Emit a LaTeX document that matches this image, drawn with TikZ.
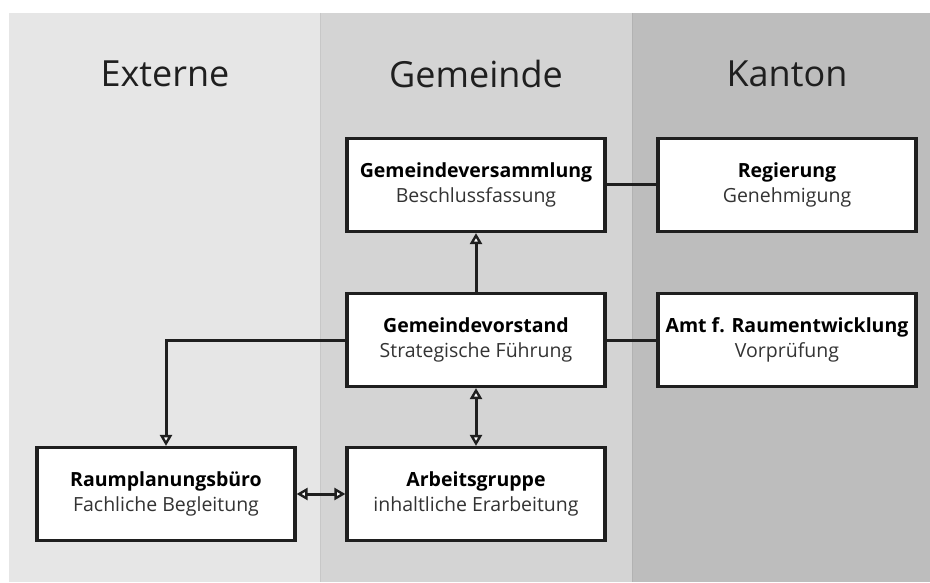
\documentclass[tikz,border=0pt]{standalone}
\usepackage{fontspec}
\setmainfont{Open Sans}
\usetikzlibrary{arrows.meta}

\definecolor{colext}{HTML}{E6E6E6}
\definecolor{colgem}{HTML}{D4D4D4}
\definecolor{colkan}{HTML}{BDBDBD}
\definecolor{txtsub}{HTML}{333333}

\newcommand{\boxtext}[2]{{\bfseries #1}\\\color{txtsub}#2}

\tikzset{
    orgbox/.style={draw=black!88, line width=3.2pt, fill=white,
        minimum width=258pt, minimum height=93pt, align=center,
        font=\fontsize{19.5}{25.5}\selectfont, inner sep=0pt},
    colhead/.style={font=\fontsize{36}{42}\selectfont, text=black!88},
    conn/.style={line width=3pt, draw=black!88},
    tip/.style={-{Triangle[length=11pt,width=12pt,fill=white,line width=2.4pt]}},
    dbltip/.style={{Triangle[length=11pt,width=12pt,fill=white,line width=2.4pt]}-{Triangle[length=11pt,width=12pt,fill=white,line width=2.4pt]}}
}

\begin{document}
\begin{tikzpicture}[x=1pt,y=-1pt]
    \useasboundingbox (0,0) rectangle (930,583);

    % columns
    \fill[colext] (9,13) rectangle (320,582);
    \fill[colgem] (320,13) rectangle (632,582);
    \fill[colkan] (632,13) rectangle (930,582);
    \draw[black!22, line width=0.8pt] (320,13) -- (320,582);
    \draw[black!30, line width=0.8pt] (632,13) -- (632,582);

    \node[colhead] (hext) at (165,74) {Externe};
    \node[colhead] (hgem) at (476,74) {Gemeinde};
    \node[colhead] (hkan) at (787,74) {Kanton};

    % boxes
    \node[orgbox] (versamml) at (476,185) {\boxtext{Gemeindeversammlung}{Beschlussfassung}};
    \node[orgbox] (regierung) at (787,185) {\boxtext{Regierung}{Genehmigung}};
    \node[orgbox] (vorstand) at (476,340) {\boxtext{Gemeindevorstand}{Strategische Führung}};
    \node[orgbox] (amt) at (787,340) {\boxtext{Amt f. Raumentwicklung}{Vorprüfung}};
    \node[orgbox] (buero) at (166,494) {\boxtext{Raumplanungsbüro}{Fachliche Begleitung}};
    \node[orgbox] (arbeit) at (476,494) {\boxtext{Arbeitsgruppe}{inhaltliche Erarbeitung}};

    % connections
    \draw[conn] (versamml) -- (regierung);
    \draw[conn] (vorstand) -- (amt);
    \draw[conn,tip] (vorstand) -- (versamml);
    \draw[conn,dbltip] (vorstand) -- (arbeit);
    \draw[conn,dbltip] (buero) -- (arbeit);
    \draw[conn,tip] (vorstand.west) -| (buero.north);

\end{tikzpicture}
\end{document}
